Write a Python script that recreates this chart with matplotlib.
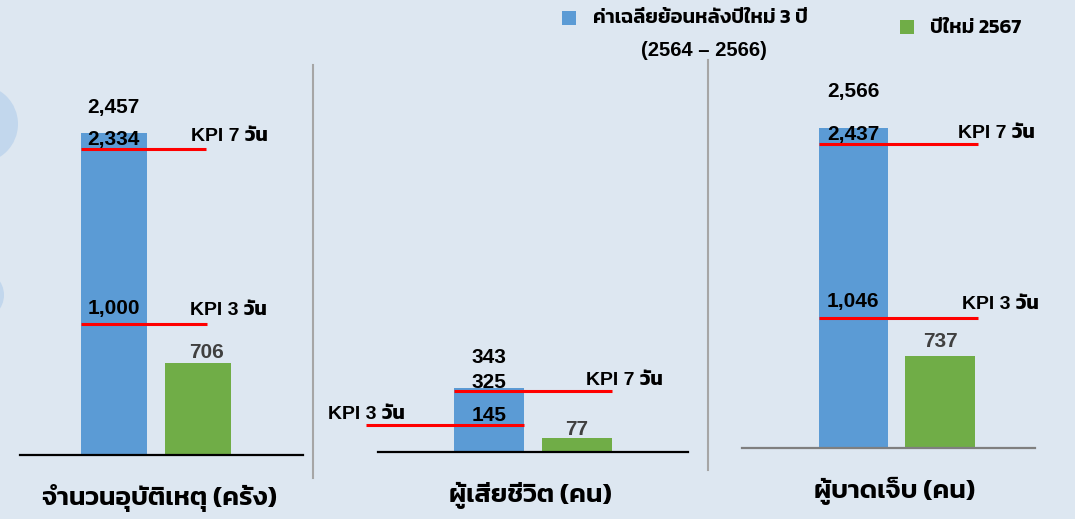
import numpy as np
import matplotlib
matplotlib.use("Agg")
import matplotlib.pyplot as plt
from matplotlib.patches import Rectangle, Circle

# data
categories = ['จำนวนอุบัติเหตุ (ครั้ง)', 'ผู้เสียชีวิต (คน)', 'ผู้บาดเจ็บ (คน)']
avg_3y = [2457, 343, 2566]          # average 2564-2566
new_year_2567 = [706, 77, 737]
kpi_7day = [2334, 325, 2437]
kpi_3day = [1000, 145, 1046]
series_names = ['ค่าเฉลี่ยย้อนหลังปีใหม่ 3 ปี\n(2564 – 2566)', 'ปีใหม่ 2567']

fam = ['Liberation Sans', 'Kanit', 'DejaVu Sans']
thai_fam = ['Kanit', 'DejaVu Sans']

W, H = 1075, 519
bg = '#dde7f1'
blue, green, red = '#5b9bd5', '#70ad47', '#ff0000'

fig = plt.figure(figsize=(W / 100, H / 100), dpi=100, facecolor=bg)

# background layer in pixel coords
axbg = fig.add_axes([0, 0, 1, 1], zorder=0)
axbg.set_xlim(0, W)
axbg.set_ylim(H, 0)
axbg.axis('off')
axbg.add_patch(Circle((-21, 124), 39, color='#c2d7ed', lw=0))
axbg.add_patch(Circle((-21, 295), 25, color='#c2d7ed', lw=0))
axbg.plot([313, 313], [65, 478], color='#a6a6a6', lw=1.5)
axbg.plot([708, 708], [60, 470], color='#a6a6a6', lw=1.5)

# legend
axbg.add_patch(Rectangle((562, 11), 14, 14, color=blue, lw=0))
axbg.add_patch(Rectangle((900, 20), 14, 14, color=green, lw=0))
first, second = series_names[0].split('\n')
axbg.text(593, 18, first, family=thai_fam, fontsize=14.5, fontweight='semibold', va='center', ha='left')
axbg.text(704, 50, second, family=fam, fontsize=14.5, fontweight='bold', va='center', ha='center')
axbg.text(930, 28, series_names[1], family=thai_fam, fontsize=14.5, fontweight='semibold', va='center', ha='left')

# panel layout: pixel box, xlim, ymax, kpi line extents, label positions/offsets (px)
layout = [
    dict(box=(20, 303, 455, 60), xlim=(-1.11, 2.24), ymax=3015, width=0.78,
         l7=(-0.39, 1.09), l3=(-0.39, 1.10), t7=(0.92, 13), t3=(0.90, 13),
         off=(26, 10, 15, 10), dx_new=8, spine='black', lab_x=0.54),
    dict(box=(378, 688, 452, 60), xlim=(-1.26, 2.26), ymax=2096, width=0.8,
         l7=(-0.40, 1.40), l3=(-1.40, 0.40), t7=(1.10, 11), t3=(-1.83, 10),
         off=(30, 9, 9, 8), dx_new=0, spine='black', lab_x=0.47),
    dict(box=(742, 1035, 448, 60), xlim=(-1.28, 2.09), ymax=3111, width=0.8,
         l7=(-0.40, 1.44), l3=(-0.40, 1.44), t7=(1.20, 11), t3=(1.25, 13),
         off=(36, 10, 16, 15), dx_new=0, spine='#7f7f7f', lab_x=0.48),
]

for i, lo in enumerate(layout):
    l, r, b, t = lo['box']
    ax = fig.add_axes([l / W, (H - b) / H, (r - l) / W, (b - t) / H], zorder=1)
    ax.patch.set_alpha(0)
    ax.set_xlim(*lo['xlim'])
    ax.set_ylim(0, lo['ymax'])
    for s in ['top', 'right', 'left']:
        ax.spines[s].set_visible(False)
    ax.spines['bottom'].set_color(lo['spine'])
    ax.spines['bottom'].set_linewidth(1.6)
    ax.set_xticks([])
    ax.set_yticks([])

    ax.bar([0, 1], [avg_3y[i], new_year_2567[i]], width=lo['width'],
           color=[blue, green], zorder=2)
    ax.hlines(kpi_7day[i], *lo['l7'], color=red, lw=2.2, zorder=3, clip_on=False)
    ax.hlines(kpi_3day[i], *lo['l3'], color=red, lw=2.2, zorder=3, clip_on=False)

    o_avg, o7, o3, o_new = [v * 0.72 for v in lo['off']]
    kw = dict(textcoords='offset points', family=fam, fontsize=15, fontweight='bold',
              va='center', annotation_clip=False, zorder=4)
    ax.annotate(f'{avg_3y[i]:,}', (0, avg_3y[i]), xytext=(0, o_avg), ha='center', **kw)
    ax.annotate(f'{kpi_7day[i]:,}', (0, kpi_7day[i]), xytext=(0, o7), ha='center', **kw)
    ax.annotate(f'{kpi_3day[i]:,}', (0, kpi_3day[i]), xytext=(0, o3), ha='center', **kw)
    ax.annotate(f'{new_year_2567[i]:,}', (1, new_year_2567[i]),
                xytext=(lo['dx_new'] * 0.72, o_new), ha='center', color='#404040', **kw)
    kw['fontsize'] = 14
    ax.annotate('KPI 7 วัน', (lo['t7'][0], kpi_7day[i]), xytext=(0, lo['t7'][1] * 0.72),
                ha='left', **kw)
    ax.annotate('KPI 3 วัน', (lo['t3'][0], kpi_3day[i]), xytext=(0, lo['t3'][1] * 0.72),
                ha='left', **kw)
    ax.annotate(categories[i], (lo['lab_x'], 0), xycoords=('data', 'axes fraction'),
                xytext=(0, -31), textcoords='offset points', family=thai_fam,
                fontsize=19, fontweight='semibold', ha='center', va='center',
                annotation_clip=False)

fig.savefig('out.png', dpi=100, facecolor=bg)
